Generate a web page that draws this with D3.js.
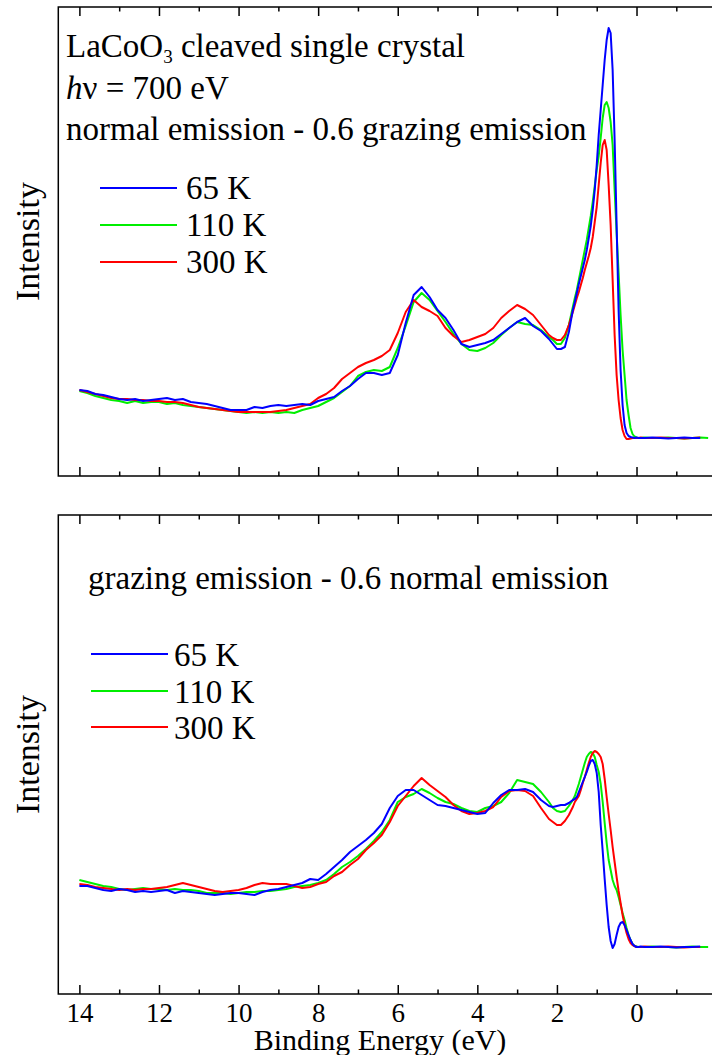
<!DOCTYPE html>
<html>
<head>
<meta charset="utf-8">
<script src="https://cdn.jsdelivr.net/npm/d3@7"></script>
<style>
  body { margin: 0; background: #fff; }
  text { font-family: "Liberation Serif", "Times New Roman", serif; fill: #000; }
</style>
</head>
<body>
<svg id="chart" width="712" height="1055"></svg>
<script>
// Binding energy grid (eV), shared by every spectrum
const bindingEnergy = [
  14.0,13.8,13.6,13.4,13.2,13.0,12.8,12.6,12.4,12.2,
  12.0,11.8,11.6,11.4,11.2,11.0,10.8,10.6,10.4,10.2,
  10.0,9.8,9.6,9.4,9.2,9.0,8.8,8.6,8.4,8.2,
  8.0,7.8,7.6,7.4,7.2,7.0,6.8,6.6,6.4,6.2,
  6.0,5.8,5.6,5.4,5.2,5.0,4.8,4.6,4.4,4.2,
  4.0,3.8,3.6,3.4,3.2,3.0,2.8,2.6,2.4,2.2,
  2.1,2.0,1.9,1.8,1.7,1.6,
  1.55,1.5,1.45,1.4,1.35,1.3,1.25,1.2,1.15,1.1,1.05,1.0,0.95,0.9,0.85,0.8,0.75,
  0.7,0.65,0.6,0.55,0.5,0.45,0.4,0.35,0.3,0.25,0.2,0.15,0.1,0.05,0.0,-0.05,-0.1,
  -0.2,-0.4,-0.6,-0.8,-1.0,-1.2,-1.4,-1.6,-1.8
];

const temperatureLabels = ["65 K", "110 K", "300 K"];

// Upper panel: normal emission - 0.6 grazing emission (arb. units)
const normalDiff65K = [
  48,47,44,43,41,39,38,39,37,38,
  39,40,38,39,36,35,34,32,30,28,
  28,28,31,30,32,33,32,33,34,33,
  37,39,41,47,52,59,65,65,63,65,
  83,115,143,151,141,128,120,108,94,91,
  93,95,98,104,110,116,120,112,107,99,
  94,89,89,91,106,128,
  136,145,154,162,170,178,188,200,212,228,248,273,303,328,353,378,398,
  410,405,368,298,213,128,68,33,13,5,2,1,0.5,0,0.5,0,0,
  0,0.5,0,-0.5,0,0.5,0,0
];
const normalDiff110K = [
  47,45,42,40,38,37,35,37,35,36,
  36,34,35,33,32,31,30,29,28,27,
  26,25,26,25,26,25,26,25,28,30,
  32,36,40,46,52,62,66,68,67,71,
  90,112,136,145,138,127,116,104,94,88,
  87,90,95,103,110,116,114,113,108,101,
  98,94,94,100,113,131,
  140,148,158,168,178,188,198,210,222,236,252,268,282,300,320,333,336,
  330,316,293,248,205,165,123,88,63,38,23,10,4,1.5,0.5,0,0,
  0.5,0,0,0.5,0,-0.5,0,0.5,0
];
const normalDiff300K = [
  48,46,44,42,40,39,39,38,38,37,
  37,36,36,35,33,31,30,29,28,27,
  26,26,26,26,26,27,28,30,32,34,
  40,44,50,59,65,71,75,78,82,88,
  105,126,138,131,127,122,110,102,96,98,
  101,104,110,120,127,133,129,123,113,103,
  100,98,98,103,113,126,
  133,140,146,153,160,168,175,182,190,201,216,231,253,275,293,298,288,
  253,213,158,103,63,38,20,8,2,-1,-1,-0.5,0,0,0,0,0.5,
  0,0,0.5,0,0,-0.5,0,0.5
];

// Lower panel: grazing emission - 0.6 normal emission (arb. units)
const grazingDiff65K = [
  61,61,59,57,56,58,57,55,56,55,
  56,57,54,56,55,54,53,52,53,54,
  54,53,52,55,57,58,60,62,64,68,
  67,73,80,87,95,101,107,114,123,139,
  151,157,157,152,147,142,141,139,137,135,
  133,134,144,152,157,157,158,155,147,141,
  140,141,142,142,144,147,
  148,150,155,160,165,170,175,181,186,187,183,174,155,122,96,68,42,
  20,6,-1,3,12,20,24,25,22,17,12,7,3,1,0,0,0.5,
  0,0,0.5,0,-0.5,0,0,0.5
];
const grazingDiff110K = [
  67,65,63,61,60,58,57,58,59,58,
  58,57,58,57,57,56,54,54,54,53,
  54,55,55,56,56,57,58,60,61,62,
  64,67,73,80,85,91,98,106,115,127,
  145,150,153,158,154,149,145,143,139,136,
  135,139,141,145,154,167,165,163,155,145,
  139,136,135,136,141,147,
  151,157,163,170,177,184,190,193,195,194,190,182,175,163,145,124,104,
  87,77,67,61,57,50,42,34,27,19,12,7,3,1,0.5,0,0,
  0,0.5,0,0,-0.5,0,0.5,0,0
];
const grazingDiff300K = [
  63,62,60,59,58,57,58,57,58,58,
  59,60,62,64,62,60,58,56,55,56,
  57,59,62,64,63,63,63,61,59,60,
  63,65,71,75,82,88,97,104,112,125,
  141,151,161,169,162,156,150,142,136,133,
  134,136,140,150,156,157,156,151,139,128,
  125,122,122,126,132,140,
  145,148,151,157,164,170,177,184,190,194,196,195,193,190,183,168,150,
  133,117,100,85,70,56,44,32,22,14,8,4,2,1,0,0,0,
  0.5,0,0,0.5,0,-0.5,0,0
];

const majorTicks = [14, 12, 10, 8, 6, 4, 2, 0];
const minorTicks = [13, 11, 9, 7, 5, 3, 1, -1];

const colors = ["#0000ff", "#00ee00", "#ff0000"];
const drawOrder = [1, 2, 0]; // 110 K, 300 K, then 65 K on top
const serif = '"Liberation Serif", "Times New Roman", serif';

const svg = d3.select("#chart");

const frameLeft = 58.3, frameRight = 736;
const x = d3.scaleLinear().domain([14.53, -2.5]).range([frameLeft, frameRight]);

const panels = [
  {
    top: 7, bottom: 476, yDomain: [-38, 431],
    series: [normalDiff65K, normalDiff110K, normalDiff300K],
    legend: { x1: 100, x2: 177, lineY: [188, 225, 262], textX: 186, textY: [199, 236, 273] },
    showTickLabels: false
  },
  {
    top: 515, bottom: 994, yDomain: [-47, 432],
    series: [grazingDiff65K, grazingDiff110K, grazingDiff300K],
    legend: { x1: 91, x2: 168, lineY: [654, 691, 727], textX: 174, textY: [666, 703, 739] },
    showTickLabels: true
  }
];

panels.forEach(p => {
  const g = svg.append("g");
  const y = d3.scaleLinear().domain(p.yDomain).range([p.bottom, p.top]);

  // frame
  g.append("rect")
    .attr("x", frameLeft).attr("y", p.top)
    .attr("width", frameRight - frameLeft).attr("height", p.bottom - p.top)
    .attr("fill", "none").attr("stroke", "#000").attr("stroke-width", 1.5);

  // inward ticks on bottom and top edges
  const addAxis = (axisFn, yPos, values, size, labels) => {
    const ax = axisFn(x).tickValues(values).tickSize(-size).tickPadding(9)
      .tickFormat(labels ? d3.format("d") : () => "");
    const a = g.append("g").attr("transform", `translate(0,${yPos})`).call(ax)
      .attr("font-family", serif);
    a.select(".domain").remove();
    a.selectAll("line").attr("stroke", "#000").attr("stroke-width", 1.5);
    a.selectAll("text").style("font-family", serif).attr("font-size", 27);
  };
  addAxis(d3.axisBottom, p.bottom, majorTicks, 9, p.showTickLabels);
  addAxis(d3.axisBottom, p.bottom, minorTicks, 4.5, false);
  addAxis(d3.axisTop, p.top, majorTicks, 9, false);
  addAxis(d3.axisTop, p.top, minorTicks, 4.5, false);

  // spectra
  const line = d3.line().x(d => x(d[0])).y(d => y(d[1]));
  drawOrder.forEach(i => {
    const pts = p.series[i].map((v, k) => [bindingEnergy[k], v]);
    g.append("path").datum(pts)
      .attr("d", line)
      .attr("fill", "none")
      .attr("stroke", colors[i])
      .attr("stroke-width", 2)
      .attr("stroke-linejoin", "round");
  });

  // legend
  temperatureLabels.forEach((lab, i) => {
    g.append("line")
      .attr("x1", p.legend.x1).attr("x2", p.legend.x2)
      .attr("y1", p.legend.lineY[i]).attr("y2", p.legend.lineY[i])
      .attr("stroke", colors[i]).attr("stroke-width", 2);
    g.append("text")
      .attr("x", p.legend.textX).attr("y", p.legend.textY[i])
      .attr("font-size", 33).text(lab);
  });

  // y-axis title
  g.append("text")
    .attr("transform", `translate(39,${(p.top + p.bottom) / 2}) rotate(-90)`)
    .attr("text-anchor", "middle").attr("font-size", 34)
    .text("Intensity");
});

// annotations, upper panel
const t1 = svg.append("text").attr("x", 66).attr("y", 57).attr("font-size", 33);
t1.append("tspan").text("LaCoO");
t1.append("tspan").attr("font-size", 19).attr("dy", 6).text("3");
t1.append("tspan").attr("dy", -6).text(" cleaved single crystal");

const t2 = svg.append("text").attr("x", 66).attr("y", 99).attr("font-size", 33);
t2.append("tspan").attr("font-style", "italic").text("h");
t2.append("tspan").text("\u03bd = 700 eV");

svg.append("text").attr("x", 66).attr("y", 140).attr("font-size", 33)
  .text("normal emission - 0.6 grazing emission");

// annotation, lower panel
svg.append("text").attr("x", 88).attr("y", 589).attr("font-size", 33)
  .text("grazing emission - 0.6 normal emission");

// x-axis title
svg.append("text").attr("x", 380).attr("y", 1050)
  .attr("text-anchor", "middle").attr("font-size", 30)
  .text("Binding Energy (eV)");
</script>
</body>
</html>
